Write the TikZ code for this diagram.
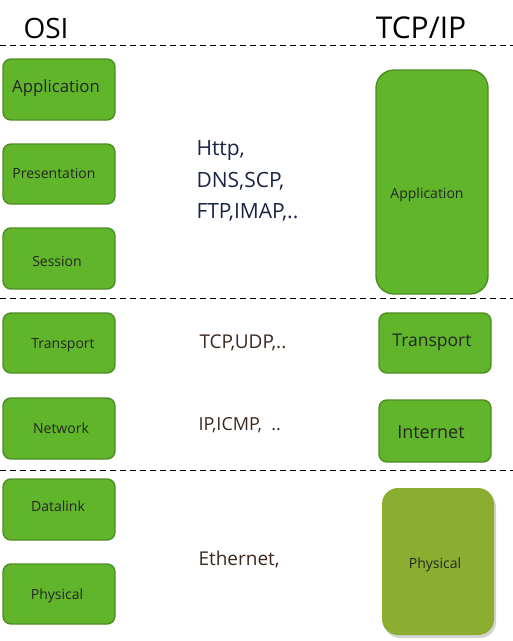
\documentclass[tikz,border=0pt]{standalone}
\usepackage{fontspec}
\setmainfont{Open Sans}
\usetikzlibrary{shadows}
\definecolor{gfill}{RGB}{96,181,42}
\definecolor{gdraw}{RGB}{78,140,36}
\definecolor{olive}{RGB}{139,173,48}
\definecolor{navy}{RGB}{28,36,70}
\definecolor{brownish}{RGB}{60,40,30}
\begin{document}
\begin{tikzpicture}[x=1pt,y=-1pt,
  layer/.style={draw=gdraw,line width=1.4pt,fill=gfill,rounded corners=8pt,text=black!85},
  sep/.style={dashed,line width=0.8pt,dash pattern=on 6pt off 4pt},
  small/.style={font=\fontsize{14}{17}\selectfont,text=black!85},
  proto/.style={anchor=west,align=left}]
\useasboundingbox (0,0) rectangle (513,641);
% separators
\coordinate (s1l) at (0,45); \coordinate (s1r) at (513,45);
\coordinate (s2l) at (0,298); \coordinate (s2r) at (513,298);
\coordinate (s3l) at (0,470); \coordinate (s3r) at (513,470);
\draw[sep] (s1l) -- (s1r);
\draw[sep] (s2l) -- (s2r);
\draw[sep] (s3l) -- (s3r);
% titles
\node[anchor=base,font=\fontsize{28}{32}\selectfont,text=black] (osi) at (46,38) {OSI};
\node[anchor=base,font=\fontsize{30}{34}\selectfont,text=black] (tcpip) at (421,38) {TCP/IP};
% OSI layers
\path[layer] (3,59) rectangle (115,120);
\node[font=\fontsize{16.8}{20}\selectfont,text=black!85] (oapp) at (56,88) {Application};
\path[layer] (3,144) rectangle (115,204);
\node[small] (opres) at (54,173) {Presentation};
\path[layer] (3,228) rectangle (115,289);
\node[small] (oses) at (57,261) {Session};
\path[layer] (3,313) rectangle (115,373);
\node[small] (otr) at (63,345) {Transport};
\path[layer] (3,398) rectangle (115,459);
\node[small] (onet) at (61,428) {Network};
\path[layer] (3,479) rectangle (115,540);
\node[small] (odl) at (58,506) {Datalink};
\path[layer] (3,564) rectangle (115,624);
\node[small] (ophy) at (57,596) {Physical};
% TCP/IP layers
\path[layer,rounded corners=18pt] (376,70) rectangle (488,294);
\node[small] (tapp) at (427,195) {Application};
\path[layer] (379,313) rectangle (491,373);
\node[font=\fontsize{17.5}{20}\selectfont,text=black!85] (ttr) at (432,342) {Transport};
\path[layer] (379,400) rectangle (491,462);
\node[font=\fontsize{18}{21}\selectfont,text=black!85] (tint) at (431,432) {Internet};
\path[fill=olive,rounded corners=16pt,drop shadow={shadow xshift=2pt,shadow yshift=-3pt,opacity=0.35}] (382,488) rectangle (494,635);
\node[small] (tphy) at (435,565) {Physical};
% protocols
\node[proto,text=navy,font=\fontsize{21}{31.5}\selectfont] (p1) at (193,181) {Http,\\DNS,SCP,\\FTP,IMAP,..};
\node[proto,text=brownish,font=\fontsize{19}{22}\selectfont] (p2) at (196,343) {TCP,UDP,..};
\node[proto,text=brownish,font=\fontsize{18}{22}\selectfont] (p3) at (195,425) {IP,ICMP,\ \ ..};
\node[proto,text=brownish,font=\fontsize{19}{22}\selectfont] (p4) at (195,559) {Ethernet,};
\end{tikzpicture}
\end{document}
